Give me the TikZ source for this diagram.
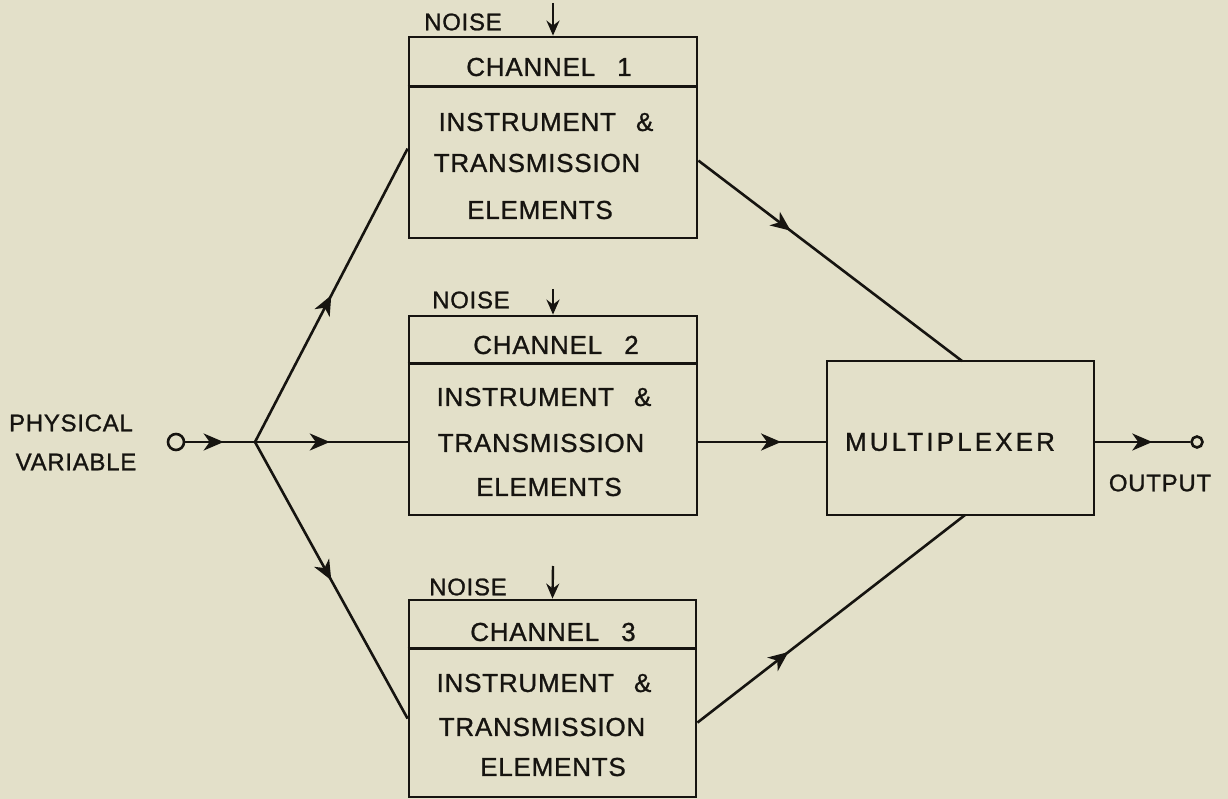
\documentclass[tikz,border=0pt]{standalone}
\usepackage{fontspec}
\newfontfamily\letr[LetterSpace=3,FakeBold=1]{Liberation Sans}
\usetikzlibrary{arrows.meta,decorations.markings,calc}
\definecolor{paper}{RGB}{227,224,201}
\definecolor{ink}{RGB}{22,20,16}
\begin{document}
\begin{tikzpicture}[x=1pt,y=-1pt,
  box/.style={draw=ink, line width=2.8pt, rectangle, inner sep=0pt},
  divider/.style={draw=ink, line width=2.8pt},
  lbl/.style={text=ink, font=\letr\fontsize{26}{30}\selectfont, inner sep=0pt},
  small/.style={lbl, font=\letr\fontsize{24}{28}\selectfont},
  wide/.style={lbl, font=\letr\fontsize{26}{30}\selectfont\addfontfeature{LetterSpace=12}},
  wire/.style={draw=ink, line width=2.6pt},
  midarrow/.style={postaction={decorate}, decoration={markings,
      mark=at position #1 with {\arrow{Stealth[length=20pt,width=17pt,inset=6pt]}}}},
  noisearrow/.style={draw=ink, line width=2.4pt, -{Stealth[length=15pt,width=13pt,inset=5pt]}},
  terminal/.style={circle, draw=ink, line width=2.6pt, inner sep=0pt}
]
% paper
\fill[paper] (0,0) rectangle (1228,799);
\useasboundingbox (0,0) rectangle (1228,799);

% channel blocks
\node[box, minimum width=288pt, minimum height=201pt] (ch1) at (553,137.5) {};
\node[box, minimum width=288pt, minimum height=199pt] (ch2) at (553,415.5) {};
\node[box, minimum width=287pt, minimum height=197pt] (ch3) at (552.5,698.5) {};
\draw[divider] (ch1.north west) ++(0,51) -- ++(288,0);
\draw[divider] (ch2.north west) ++(0,49) -- ++(288,0);
\draw[divider] (ch3.north west) ++(0,50) -- ++(287,0);

% multiplexer
\node[box, minimum width=267pt, minimum height=154pt] (mux) at (960.5,438) {};

% block texts
\node[lbl] (c1t) at (549,67) {CHANNEL\hspace{22pt}1};
\node[lbl] (c1a) at (546,122) {INSTRUMENT\hspace{20pt}\&};
\node[lbl] (c1b) at (537,163) {TRANSMISSION};
\node[lbl] (c1c) at (540,210) {ELEMENTS};

\node[lbl] (c2t) at (556,345) {CHANNEL\hspace{22pt}2};
\node[lbl] (c2a) at (544,397) {INSTRUMENT\hspace{20pt}\&};
\node[lbl] (c2b) at (541,443) {TRANSMISSION};
\node[lbl] (c2c) at (549,487) {ELEMENTS};

\node[lbl] (c3t) at (553,632) {CHANNEL\hspace{22pt}3};
\node[lbl] (c3a) at (544,683) {INSTRUMENT\hspace{20pt}\&};
\node[lbl] (c3b) at (542,727) {TRANSMISSION};
\node[lbl] (c3c) at (553,767) {ELEMENTS};

\node[wide] (muxt) at (950,442) {MULTIPLEXER};

% noise labels and inputs
\node[small] (n1) at (463,22) {NOISE};
\node[small] (n2) at (471,300) {NOISE};
\node[small] (n3) at (468,587) {NOISE};
\coordinate (nz1) at (553,3);
\coordinate (nz2) at (553,289);
\coordinate (nz3) at (553,566);
\draw[noisearrow] (nz1) -- (ch1.north);
\draw[noisearrow] (nz2) -- (ch2.north);
\draw[noisearrow] (nz3) -- (ch3.north);

% input and output terminals
\node[terminal, minimum size=16pt] (in) at (176,442) {};
\node[terminal, minimum size=11pt] (out) at (1197,442) {};
\node[small] (pv1) at (71,423) {PHYSICAL};
\node[small] (pv2) at (76,462) {VARIABLE};
\node[small] (outt) at (1160,483) {OUTPUT};

% signal paths
\coordinate (fork) at (255,442);
\coordinate (b1in) at ($(ch1.north west)+(0,113)$);
\coordinate (b1out) at ($(ch1.north east)+(0,125)$);
\coordinate (b3in) at ($(ch3.north west)+(0,120)$);
\coordinate (b3out) at ($(ch3.north east)+(0,124)$);
\coordinate (m1) at (962,361);
\coordinate (m3) at (965,515);

\draw[wire, midarrow=0.55] (in.east) -- (fork);
\draw[wire, midarrow=0.5] (fork) -- (b1in);
\draw[wire, midarrow=0.49] (fork) -- (ch2.west |- fork);
\draw[wire, midarrow=0.5] (fork) -- (b3in);
\draw[wire, midarrow=0.35] (b1out) -- (m1);
\draw[wire, midarrow=0.65] (ch2.east |- fork) -- (mux.west |- fork);
\draw[wire, midarrow=0.34] (b3out) -- (m3);
\draw[wire, midarrow=0.6] (mux.east |- fork) -- (out.west);
\end{tikzpicture}
\end{document}
